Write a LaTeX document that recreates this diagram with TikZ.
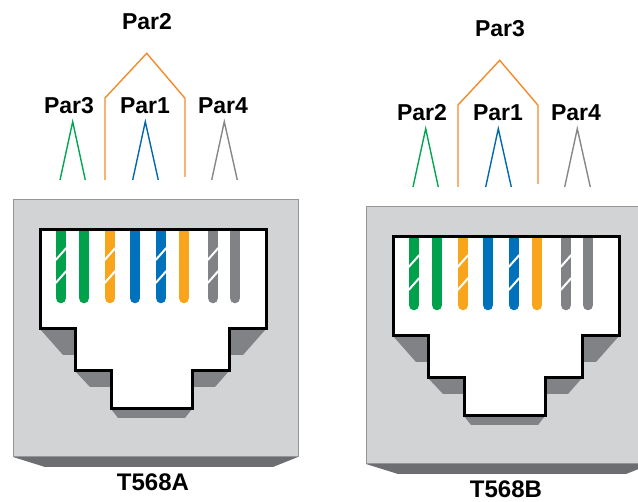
\documentclass[tikz,border=0pt]{standalone}
\usepackage{fontspec}
\setmainfont{Liberation Sans}

\definecolor{boxgray}{HTML}{D1D3D4}
\definecolor{edgegray}{HTML}{939598}
\definecolor{bandgray}{HTML}{6D6E71}
\definecolor{stepgray}{HTML}{808285}
\definecolor{wgreen}{HTML}{00A14B}
\definecolor{worange}{HTML}{F9A51B}
\definecolor{wblue}{HTML}{0072BC}
\definecolor{wgray}{HTML}{808285}
\definecolor{lgreen}{HTML}{00A651}
\definecolor{lorange}{HTML}{F58A2A}
\definecolor{lblue}{HTML}{0069AA}
\definecolor{lgray}{HTML}{86878A}

% socket opening (white part with the three steps)
\newcommand\jackhole{(40,230) -- (266,230) -- (266,329) -- (229,329) -- (229,371)
  -- (192,371) -- (192,409) -- (111,409) -- (111,371) -- (75,371) -- (75,329)
  -- (40,329) -- cycle}

\tikzset{
  parlabel/.style={font=\bfseries\fontsize{23}{27}\selectfont, inner sep=0pt},
  stdlabel/.style={font=\bfseries\fontsize{24}{28}\selectfont, inner sep=0pt},
  pairline/.style={line width=1.4pt, line join=miter},
  shade/.style={fill=stepgray}
}

\begin{document}
\begin{tikzpicture}[x=1pt, y=-1pt]
  \path[use as bounding box, clip] (0,0) rectangle (638,502);

  \foreach \std/\dx/\dy/\outer/\inner in {A/0/0/Par2/Par3, B/353/7/Par3/Par2} {
    \begin{scope}[shift={(\dx,\dy)}]
      % pair labels
      \node[parlabel] (top\std)   at (147,22)  {\outer};
      \node[parlabel] (left\std)  at (69,106)  {\inner};
      \node[parlabel] (mid\std)   at (145,106) {Par1};
      \node[parlabel] (right\std) at (223,106) {Par4};

      % pair markers
      \draw[pairline, lgreen] (60,180) -- (72.7,121.7) -- (85.3,180);
      \draw[pairline, lblue]  (132.7,180) -- (145.3,121.7) -- (158.3,180);
      \draw[pairline, lgray]  (211.7,180) -- (224.3,121.7) -- (237.3,180);
      \draw[pairline, lorange] (105,180) -- (105,98) -- (146.7,53.3) -- (185,98.3) -- (185,177);

      % housing
      \fill[bandgray] (13,457) -- (298,457) -- (273,467) -- (45,467) -- cycle;
      \filldraw[fill=boxgray, draw=edgegray, line width=1pt] (13,200) rectangle (298,457);

      % step shadows
      \fill[shade] (40,329) -- (75,329) -- (75,355) -- (63,355) -- cycle;
      \fill[shade] (229,329) -- (266,329) -- (243,355) -- (229,355) -- cycle;
      \fill[shade] (75,371) -- (111,371) -- (111,387) -- (90,387) -- cycle;
      \fill[shade] (192,371) -- (229,371) -- (215,387) -- (192,387) -- cycle;
      \fill[shade] (111,409) -- (192,409) -- (185,418) -- (118,418) -- cycle;

      \fill[white] \jackhole;

      % contacts
      \begin{scope}
        \clip \jackhole;
        \foreach \x/\c/\s in {61/wgreen/1, 84/wgreen/0, 110/worange/1, 135/wblue/0,
                              161/wblue/1, 184/worange/0, 213/wgray/1, 235/wgray/0} {
          \draw[\c, line width=10.6pt, line cap=round] (\x,220) -- (\x,298);
          \ifnum\s=1
            \draw[white, line width=2pt] (\x-5.3,260) -- (\x+5.3,248);
            \draw[white, line width=2pt] (\x-5.3,283) -- (\x+5.3,271);
          \fi
        }
      \end{scope}

      \draw[black, line width=3pt] \jackhole;

      \node[stdlabel] (std\std) at (153,482) {T568\std};
    \end{scope}
  }
\end{tikzpicture}
\end{document}
